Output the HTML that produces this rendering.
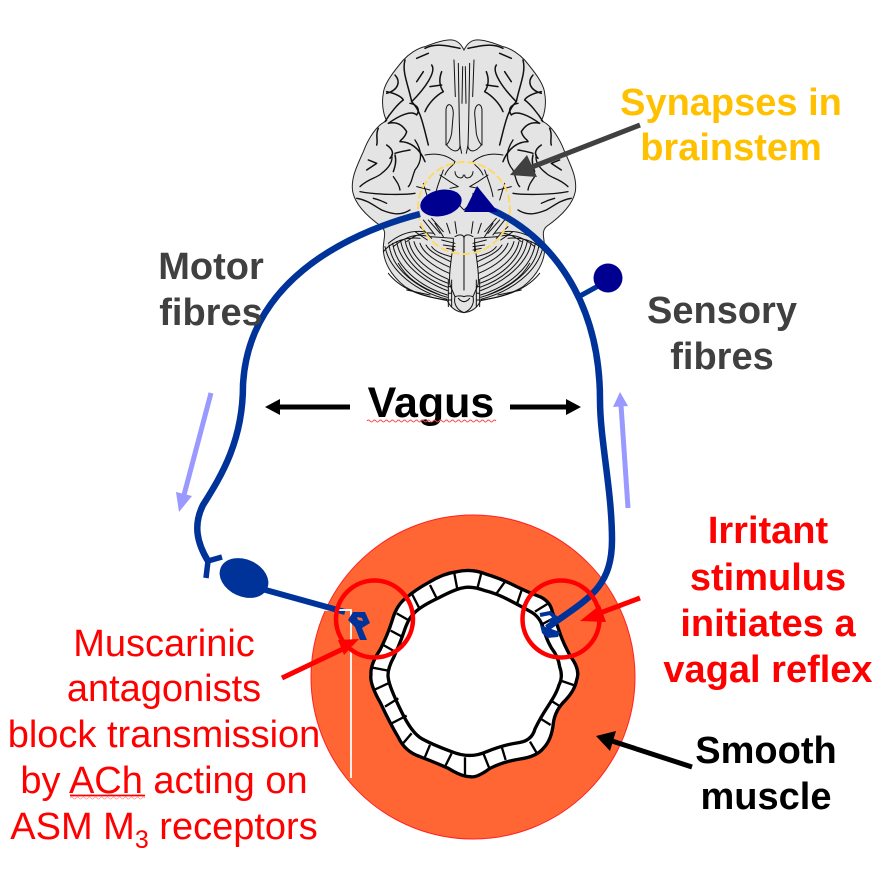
<!DOCTYPE html>
<html><head><meta charset="utf-8"><style>
html,body{margin:0;padding:0;background:#fff}
svg{display:block}
text{font-family:"Liberation Sans",Arial,sans-serif;font-size:38px;text-anchor:middle}
.b{font-weight:bold}.g{fill:#404040}.r{fill:#f00}
</style></head><body>
<svg width="895" height="893" viewBox="0 0 895 893" xmlns="http://www.w3.org/2000/svg">
<defs>
<g id="half" fill="none" stroke="#111" stroke-linecap="round" stroke-linejoin="round">
 <g stroke-width="4.5" transform="translate(15 15)">
  <path d="M180 75C170 110 190 150 200 200C225 225 232 260 240 290L250 330"/>
  <path d="M125 170C150 175 170 185 175 195C160 205 135 235 120 260"/>
  <path d="M150 120C168 140 160 165 125 175"/>
  <path d="M260 90C275 110 240 160 200 200"/>
  <path d="M235 110L215 140"/>
  <path d="M195 205C220 210 225 225 215 240C200 225 165 240 130 265C150 260 170 265 185 290C180 310 165 315 165 320C195 320 225 340 240 380"/>
  <path d="M290 110C280 135 285 155 295 170C275 180 250 205 240 230"/>
  <path d="M255 155L290 150"/>
  <path d="M125 330C140 340 150 355 135 370M150 355C165 350 180 348 195 345"/>
  <path d="M150 360C155 380 150 395 145 410"/>
  <path d="M70 375L95 385L65 405"/>
  <path d="M100 280C90 300 100 315 95 330"/>
  <path d="M215 70L250 55"/>
  <path d="M240 40C270 25 300 30 345 40"/>
 </g>
 <g stroke-width="4">
  <path d="M60 470C85 445 110 445 125 430C145 415 160 395 155 375"/>
  <path d="M50 505C85 510 105 530 125 540C150 550 180 560 210 540"/>
  <path d="M100 505C120 510 130 515 140 520M60 485C110 495 195 495 225 490"/>
  <path d="M160 440C170 455 178 465 180 480M225 330C245 360 250 390 225 420C215 445 215 460 205 470"/>
 </g>
 <g stroke-width="3">
  <path d="M318 345L318 240C320 215 340 220 340 250L335 310C330 335 320 345 318 345Z"/>
  <path d="M320 345C335 365 355 370 360 350L358 280L355 100"/>
  <path d="M342 90L346 200M368 110L366 220"/>
  <path d="M255 375C280 370 315 370 345 395C340 410 325 410 315 435"/>
  <path d="M310 420C300 450 290 470 285 500M230 470L270 480M250 460L265 510"/>
  <path d="M330 455L355 470L330 475M345 425C345 445 370 450 370 435M300 435L330 455"/>
  <path d="M360 345L365 370"/>
  <path d="M345 490C345 510 360 530 372 540"/>
  <path d="M270 620L340 625L340 665M305 630L345 640M310 645L345 650M320 655L345 660"/>
  <path d="M345 575L350 610M320 580L330 610M285 580L310 620"/>
  <path d="M345 620C360 610 372 615 372 625L372 780"/>
  <path d="M340 640C335 680 325 740 330 765L345 800C360 795 372 800 372 800"/>
  <path d="M325 750L325 830M335 750L335 830M325 770H335M325 790H335M325 810H335"/>
  <path d="M345 800C340 820 350 840 372 848M355 805C362 815 372 815 372 815"/>
 </g>
 <g stroke-width="3">
  <path d="M135 650C150 725 230 785 322 808"/>
  <path d="M147 645C157 720 235 778 322 802"/>
  <path d="M158 640C168 712 240 770 322 795"/>
  <path d="M170 635C180 700 250 755 322 782"/>
  <path d="M182 632C192 695 255 748 324 772"/>
  <path d="M195 630C205 690 260 738 325 760"/>
  <path d="M207 635C217 685 270 725 325 748"/>
  <path d="M222 635C232 675 280 710 328 730"/>
  <path d="M240 640C250 670 290 695 330 712"/>
  <path d="M258 645C268 665 300 680 332 695"/>
  <path d="M275 650C285 665 305 672 333 680"/>
  <path d="M130 665C150 640 190 620 240 625M160 650C190 625 220 610 260 618M200 635C225 615 250 605 280 610M145 640C175 615 210 600 250 605"/>
  <path d="M250 570L285 615M265 570L300 610M240 590L275 625M225 605L262 630M275 565L310 605"/>
  <path d="M145 730C180 775 240 800 320 810M200 780L270 795M175 700C200 745 240 770 300 795"/>
 </g>
</g>
</defs>

<!-- brain -->
<g transform="translate(340 30) scale(.3333)">
 <path d="M372 60C362 40 350 28 325 30C300 32 275 42 255 50C230 55 204 75 190 90C165 120 132 160 130 190C125 215 128 250 140 272C110 285 85 325 70 365C50 410 32 445 38 485C45 520 75 555 125 590C140 605 132 620 130 650C128 690 150 735 195 770C235 795 285 805 322 812C330 830 345 845 372 848C399 845 414 830 422 812C459 805 509 795 549 770C594 735 616 690 614 650C612 620 604 605 619 590C669 555 699 520 706 485C712 445 694 410 674 365C659 325 634 285 604 272C616 250 619 215 614 190C612 160 579 120 554 90C540 75 514 55 489 50C469 42 444 32 419 30C394 28 382 40 372 60Z" fill="#e4e4e4" stroke="#222" stroke-width="3"/>
 <use href="#half"/>
 <use href="#half" transform="translate(744 0) scale(-1 1)"/>
</g>
<circle cx="464" cy="208" r="46" fill="none" stroke="#ffd966" stroke-width="2" stroke-dasharray="8 3"/>

<!-- muscle -->
<circle cx="473" cy="677" r="162" fill="#ff6633" stroke="#f22" stroke-width="1"/>

<!-- epithelium -->
<g transform="translate(300 510) scale(.3333)" fill="none" stroke="#000" stroke-width="10" stroke-linejoin="round">
 <path fill="#fff" d="M557 192Q600 205 640 225Q680 245 712 257Q750 270 757 305Q770 340 780 370Q790 400 812 440Q842 480 830 510Q825 540 797 570Q765 600 760 640Q755 690 730 715Q710 740 660 747Q610 755 570 775Q530 805 510 800Q485 800 445 775Q400 755 360 740Q315 725 295 682Q270 640 242 580Q208 520 213 495Q210 465 240 420Q265 370 277 330Q290 285 317 265Q345 240 387 217Q430 190 472 185Q515 175 557 192Z"/>
 <path d="M552 241Q590 250 627 270Q665 290 692 305Q720 320 730 355Q740 390 755 415Q775 440 779 470Q790 500 777 525Q770 550 745 587Q720 625 705 657Q695 695 650 699Q610 705 560 725Q510 748 455 725Q400 705 367 687Q335 670 302 600Q268 530 265 505Q260 480 282 440Q300 400 312 365Q325 325 342 310Q360 290 415 264Q470 235 492 233Q515 228 552 241Z"/>
 <path stroke-width="7" d="M463 190L472 238M545 185L533 232M615 215L590 250M665 240L650 285M745 280L705 305M760 325L722 345M812 437L770 445M826 527L782 512M750 570L780 589M752 645L720 625M690 695L712 732M605 710L617 750M550 730L570 780M495 742V795M455 730L435 770M390 705L372 748M335 670L305 705M320 617L275 640M295 565L255 590M265 520L222 540M265 482L212 472M250 405L285 425M272 362L310 382M290 310L328 332M335 250L358 295M390 225L410 265"/>
</g>

<!-- white leader -->
<path d="M323 610H351V778" fill="none" stroke="#fff" stroke-width="1.8"/>

<!-- nerves -->
<g fill="none" stroke="#003399" stroke-linecap="butt">
 <path stroke-width="6.5" d="M420 214C340 235 248 285 243 385C243 440 222 475 203 505C193 525 197 543 208 561"/>
 <path stroke-width="5.5" d="M208 561L206 578M208 561L222 557"/>
 <path stroke-width="6.5" d="M490 209C550 235 600 300 600 400C600 440 612 490 612 540C612 590 585 600 547 628"/>
 <path stroke-width="5" d="M580 296L600 285"/>
 <path stroke-width="6" d="M262 589L345 612"/>
</g>
<ellipse cx="244" cy="578" rx="25.5" ry="18.5" transform="rotate(25 244 578)" fill="#003399"/>
<ellipse cx="441" cy="203" rx="21" ry="13" transform="rotate(-12 441 203)" fill="#000090"/>
<path d="M477 186L464 212L498 212Z" fill="#000090"/>
<circle cx="608" cy="278" r="14.5" fill="#000090"/>

<!-- hooks -->
<path d="M353 612L365 612L370 623L362 628L367 640L360 640L355 627L348 620Z" fill="#003399"/>
<path d="M357 617L362 618L363 621L358 620Z" fill="#ff6633"/>
<path d="M540 625L560 632L558 637L547 638L542 633Z" fill="#003399"/>
<path d="M540 615L550 613L555 617L550 622" fill="none" stroke="#003399" stroke-width="4"/>

<!-- white leader top, over nerve -->
<path d="M336 610H351" fill="none" stroke="#fff" stroke-width="1.8"/>

<!-- red circles -->
<circle cx="374.5" cy="619" r="38.5" fill="none" stroke="#f00" stroke-width="4.5"/>
<circle cx="561" cy="619" r="38.5" fill="none" stroke="#f00" stroke-width="4.5"/>

<!-- arrows -->
<g fill="none">
 <path d="M282 678L345 648" stroke="#f00" stroke-width="5"/>
 <path d="M640 598L592 616" stroke="#f00" stroke-width="5"/>
 <path d="M640 125L532 167" stroke="#404040" stroke-width="5"/>
 <path d="M692 767L612 741" stroke="#000" stroke-width="5"/>
 <path d="M350 407H280M510 407H566" stroke="#000" stroke-width="5"/>
 <path d="M211 393L184 495" stroke="#9999ff" stroke-width="5"/>
 <path d="M628 508L621 405" stroke="#9999ff" stroke-width="5"/>
</g>
<path d="M359 639L338 640L344 655Z" fill="#f00"/>
<path d="M580 621L600 605L606 622Z" fill="#f00"/>
<path d="M510 175L527 155L537 177Z" fill="#404040"/>
<path d="M596 736L616 731L610 751Z" fill="#000"/>
<path d="M265 407L280 399V415Z M581 407L566 399V415Z" fill="#000"/>
<path d="M179 512L176 492L192 496Z" fill="#9999ff"/>
<path d="M620 392L613 407L628 406Z" fill="#9999ff"/>

<!-- labels -->
<text class="b" x="731" y="115" fill="#ffc000">Synapses in</text>
<text class="b" x="731" y="160" fill="#ffc000">brainstem</text>
<text class="b g" x="211" y="279">Motor</text>
<text class="b g" x="211" y="325">fibres</text>
<text class="b g" x="722" y="323">Sensory</text>
<text class="b g" x="722" y="369">fibres</text>
<text class="b" x="431" y="417" style="font-size:43px">Vagus</text>
<path d="M367 421q1.500 -2 3 0t3 0t3 0t3 0t3 0t3 0t3 0t3 0t3 0t3 0t3 0t3 0t3 0t3 0t3 0t3 0t3 0t3 0t3 0t3 0t3 0t3 0t3 0t3 0t3 0t3 0t3 0t3 0t3 0t3 0t3 0t3 0t3 0t3 0t3 0t3 0t3 0t3 0t3 0t3 0t3 0t3 0t3 0" fill="none" stroke="#f44" stroke-width="1"/>
<text class="b r" x="768" y="543">Irritant</text>
<text class="b r" x="768" y="590">stimulus</text>
<text class="b r" x="768" y="636">initiates a</text>
<text class="b r" x="768" y="682">vagal reflex</text>
<text class="b" x="766" y="763">Smooth</text>
<text class="b" x="766" y="809">muscle</text>
<text class="r" x="164" y="656">Muscarinic</text>
<text class="r" x="164" y="701">antagonists</text>
<text class="r" x="164" y="747">block transmission</text>
<text class="r" x="164" y="793">by ACh acting on</text>
<text class="r" x="164" y="839">ASM M<tspan dy="9" style="font-size:25px">3</tspan><tspan dy="-9"> receptors</tspan></text>
<path d="M70 795.500H145" fill="none" stroke="#f00" stroke-width="1.800"/>
<path d="M70 798q1.500 -2 3 0t3 0t3 0t3 0t3 0t3 0t3 0t3 0t3 0t3 0t3 0t3 0t3 0t3 0t3 0t3 0t3 0t3 0t3 0t3 0t3 0t3 0t3 0t3 0t3 0" fill="none" stroke="#f99" stroke-width=".8"/>
</svg>
</body></html>
